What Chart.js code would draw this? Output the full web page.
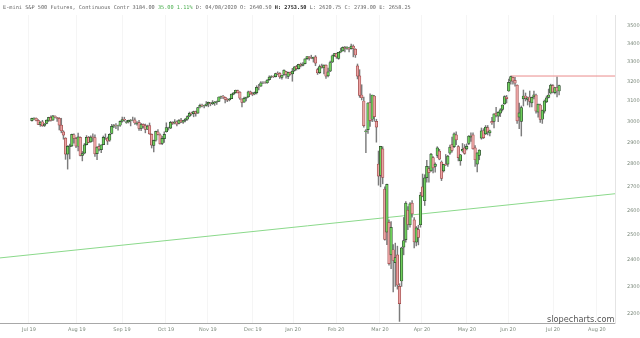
<!DOCTYPE html>
<html lang="en">
<head>
<meta charset="UTF-8">
<title>E-mini S&amp;P 500 Futures</title>
<script src="https://cdn.jsdelivr.net/npm/chart.js@4.4.0/dist/chart.umd.min.js"></script>
<style>
  body { margin: 0; background: #fff; }
  #wrap { position: relative; width: 640px; height: 338px; }
  #title { position: absolute; left: 3px; top: 4px; font: 5.25px 'DejaVu Sans Mono', monospace; color: #666; white-space: nowrap; }
  #title .up { color: #4caf50; }
  #title b { color: #222; }
  #mark { position: absolute; left: 547px; top: 314px; font: 8.2px 'DejaVu Sans', sans-serif; color: #555; }
</style>
</head>
<body>
<div id="wrap">
  <canvas id="myChart" width="640" height="338"></canvas>
  <div id="title">E-mini S&amp;P 500 Futures, Continuous Contr 3184.00 <span class="up">35.00 1.11%</span> D: 04/08/2020 O: 2640.50 <b>H: 2753.50</b> L: 2620.75 C: 2739.00 E: 2658.25</div>
  <div id="mark">slopecharts.com</div>
</div>
<script>
// trading days, Jul 12 2019 .. Jul 10 2020
const dates = [
  '07/12/19','07/15/19','07/16/19','07/17/19','07/18/19','07/19/19','07/22/19','07/23/19','07/24/19','07/25/19','07/26/19','07/29/19','07/30/19','07/31/19',
  '08/01/19','08/02/19','08/05/19','08/06/19','08/07/19','08/08/19','08/09/19','08/12/19','08/13/19','08/14/19','08/15/19','08/16/19','08/19/19','08/20/19','08/21/19','08/22/19','08/23/19','08/26/19','08/27/19','08/28/19','08/29/19','08/30/19',
  '09/03/19','09/04/19','09/05/19','09/06/19','09/09/19','09/10/19','09/11/19','09/12/19','09/13/19','09/16/19','09/17/19','09/18/19','09/19/19','09/20/19','09/23/19','09/24/19','09/25/19','09/26/19','09/27/19','09/30/19',
  '10/01/19','10/02/19','10/03/19','10/04/19','10/07/19','10/08/19','10/09/19','10/10/19','10/11/19','10/14/19','10/15/19','10/16/19','10/17/19','10/18/19','10/21/19','10/22/19','10/23/19','10/24/19','10/25/19','10/28/19','10/29/19','10/30/19','10/31/19',
  '11/01/19','11/04/19','11/05/19','11/06/19','11/07/19','11/08/19','11/11/19','11/12/19','11/13/19','11/14/19','11/15/19','11/18/19','11/19/19','11/20/19','11/21/19','11/22/19','11/25/19','11/26/19','11/27/19','11/29/19',
  '12/02/19','12/03/19','12/04/19','12/05/19','12/06/19','12/09/19','12/10/19','12/11/19','12/12/19','12/13/19','12/16/19','12/17/19','12/18/19','12/19/19','12/20/19','12/23/19','12/24/19','12/26/19','12/27/19','12/30/19','12/31/19',
  '01/02/20','01/03/20','01/06/20','01/07/20','01/08/20','01/09/20','01/10/20','01/13/20','01/14/20','01/15/20','01/16/20','01/17/20','01/21/20','01/22/20','01/23/20','01/24/20','01/27/20','01/28/20','01/29/20','01/30/20','01/31/20',
  '02/03/20','02/04/20','02/05/20','02/06/20','02/07/20','02/10/20','02/11/20','02/12/20','02/13/20','02/14/20','02/18/20','02/19/20','02/20/20','02/21/20','02/24/20','02/25/20','02/26/20','02/27/20','02/28/20',
  '03/02/20','03/03/20','03/04/20','03/05/20','03/06/20','03/09/20','03/10/20','03/11/20','03/12/20','03/13/20','03/16/20','03/17/20','03/18/20','03/19/20','03/20/20','03/23/20','03/24/20','03/25/20','03/26/20','03/27/20','03/30/20','03/31/20',
  '04/01/20','04/02/20','04/03/20','04/06/20','04/07/20','04/08/20','04/09/20','04/13/20','04/14/20','04/15/20','04/16/20','04/17/20','04/20/20','04/21/20','04/22/20','04/23/20','04/24/20','04/27/20','04/28/20','04/29/20','04/30/20',
  '05/01/20','05/04/20','05/05/20','05/06/20','05/07/20','05/08/20','05/11/20','05/12/20','05/13/20','05/14/20','05/15/20','05/18/20','05/19/20','05/20/20','05/21/20','05/22/20','05/26/20','05/27/20','05/28/20','05/29/20',
  '06/01/20','06/02/20','06/03/20','06/04/20','06/05/20','06/08/20','06/09/20','06/10/20','06/11/20','06/12/20','06/15/20','06/16/20','06/17/20','06/18/20','06/19/20','06/22/20','06/23/20','06/24/20','06/25/20','06/26/20','06/29/20','06/30/20',
  '07/01/20','07/02/20','07/06/20','07/07/20','07/08/20','07/09/20','07/10/20'
];

const opens = [
  3003,3014,3015,3005,2985,2998,2980,2990,3004,3019,3006,3025,3018,3014,
  2982,2950,2920,2846,2880,2884,2936,2918,2882,2924,2840,2850,2890,2924,2902,2926,2922,2848,2882,2866,2890,2926,
  2920,2910,2942,2977,2980,2978,2981,3001,3010,2995,2998,3005,3006,3007,2988,2995,2966,2985,2980,2962,
  2980,2938,2886,2910,2950,2935,2895,2918,2950,2966,2967,2994,2992,2998,2990,3006,2996,3005,3010,3025,3040,3037,3048,
  3040,3070,3078,3075,3078,3085,3090,3087,3090,3094,3098,3120,3123,3118,3108,3105,3112,3134,3142,3152,
  3144,3110,3094,3114,3120,3146,3136,3135,3142,3170,3175,3192,3192,3192,3208,3222,3224,3224,3242,3241,3220,
  3235,3250,3225,3246,3238,3256,3276,3266,3288,3283,3292,3318,3328,3322,3320,3328,3260,3245,3278,3270,3284,
  3228,3252,3300,3335,3345,3320,3354,3360,3378,3375,3375,3372,3386,3370,3280,3228,3130,3100,2950,
  2960,3092,3010,3125,3000,2800,2750,2870,2690,2510,2550,2420,2440,2390,2420,2300,2320,2450,2480,2600,2540,2630,
  2560,2470,2520,2540,2700,2640,2740,2780,2770,2830,2790,2840,2860,2810,2770,2800,2800,2850,2890,2880,2935,
  2880,2815,2860,2875,2870,2895,2925,2935,2875,2800,2840,2920,2955,2940,2970,2945,3000,3000,3040,3025,
  3040,3058,3085,3120,3150,3200,3220,3205,3180,3020,3000,3110,3125,3108,3120,3090,3120,3130,3045,3080,3010,3050,
  3095,3118,3140,3178,3142,3168,3150
];
const highs = [
  3016,3018,3017,3008,2999,3005,2990,3007,3020,3027,3029,3027,3020,3018,
  3015,2955,2922,2885,2892,2939,2940,2924,2944,2926,2858,2895,2932,2928,2931,2940,2936,2880,2893,2890,2930,2940,
  2925,2941,2985,2985,2989,2982,3002,3021,3020,3004,3006,3009,3021,3017,2999,3005,2990,2988,2987,2982,
  2992,2940,2911,2953,2960,2940,2928,2950,2993,2972,3000,2998,3008,3002,3008,3014,3005,3015,3027,3045,3045,3050,3050,
  3068,3085,3085,3080,3097,3095,3092,3102,3098,3099,3121,3125,3128,3120,3112,3113,3135,3142,3155,3155,
  3147,3112,3120,3120,3150,3150,3143,3145,3177,3184,3198,3198,3198,3208,3228,3229,3228,3242,3249,3245,3232,
  3259,3252,3247,3248,3267,3277,3283,3289,3295,3298,3317,3330,3330,3337,3327,3335,3268,3285,3290,3286,3286,
  3268,3306,3338,3347,3348,3353,3375,3382,3385,3383,3380,3397,3393,3372,3290,3260,3182,3120,2960,
  3092,3136,3130,3128,3010,2860,2882,2880,2700,2712,2560,2553,2460,2466,2454,2310,2450,2570,2637,2615,2632,2641,
  2570,2533,2538,2676,2756,2753,2818,2790,2850,2835,2806,2880,2868,2815,2800,2844,2840,2887,2925,2945,2950,
  2885,2845,2895,2890,2893,2932,2945,2945,2885,2852,2866,2968,2965,2980,2980,2958,3020,3037,3068,3047,
  3062,3081,3126,3128,3211,3227,3222,3220,3182,3090,3075,3155,3140,3120,3150,3120,3150,3135,3085,3085,3055,3105,
  3125,3160,3185,3183,3168,3222,3180
];
const lows = [
  3001,3008,3002,2984,2976,2976,2975,2988,2999,3001,3004,3016,3000,2959,
  2945,2915,2822,2778,2824,2880,2896,2875,2860,2838,2815,2847,2888,2898,2900,2905,2835,2820,2860,2853,2889,2914,
  2890,2905,2940,2970,2965,2958,2975,2996,3000,2990,2992,2978,3002,2985,2982,2957,2955,2967,2945,2960,
  2938,2874,2856,2906,2935,2892,2890,2900,2948,2958,2965,2985,2988,2978,2988,2994,2990,2997,3005,3022,3030,3022,3025,
  3038,3066,3070,3065,3074,3071,3076,3082,3078,3083,3096,3112,3112,3090,3096,3100,3111,3131,3139,3140,
  3108,3070,3093,3100,3118,3133,3126,3131,3135,3155,3173,3188,3189,3189,3205,3218,3219,3222,3233,3215,3211,
  3230,3216,3213,3232,3200,3252,3258,3263,3275,3280,3290,3315,3310,3318,3300,3281,3235,3240,3268,3238,3214,
  3222,3250,3298,3330,3320,3315,3350,3358,3355,3368,3355,3370,3328,3325,3212,3118,3105,2972,2853,
  2942,2976,2998,3000,2901,2707,2700,2713,2478,2460,2380,2367,2280,2300,2290,2174,2300,2420,2470,2520,2530,2571,
  2447,2455,2459,2530,2657,2620,2720,2720,2768,2761,2764,2830,2820,2727,2765,2794,2790,2845,2855,2875,2890,
  2815,2795,2855,2845,2865,2890,2905,2868,2790,2765,2820,2915,2918,2937,2935,2930,2985,2968,3022,2998,
  3023,3050,3083,3090,3148,3185,3185,3175,2990,2965,2930,3075,3100,3080,3070,3070,3110,3040,3020,2995,2990,3040,
  3092,3115,3135,3140,3135,3120,3130
];
const closes = [
  3014,3015,3004,2985,2996,2978,2986,3006,3019,3004,3027,3021,3014,2982,
  2954,2934,2846,2882,2884,2938,2919,2883,2926,2840,2848,2889,2924,2900,2925,2923,2847,2878,2869,2888,2924,2926,
  2906,2938,2976,2979,2979,2980,3000,3009,3007,2998,3005,3006,3006,2992,2991,2966,2984,2977,2961,2977,
  2940,2887,2910,2952,2938,2893,2919,2938,2970,2966,2995,2990,2998,2986,3006,2996,3004,3010,3023,3039,3037,3047,3038,
  3067,3078,3075,3077,3085,3093,3087,3092,3094,3097,3120,3122,3120,3108,3104,3110,3134,3141,3154,3141,
  3114,3093,3113,3118,3146,3136,3133,3142,3169,3169,3192,3192,3191,3206,3221,3224,3223,3240,3240,3222,3231,
  3258,3235,3246,3237,3253,3275,3265,3288,3283,3289,3317,3330,3321,3321,3326,3295,3243,3276,3273,3284,3226,
  3249,3298,3334,3345,3328,3352,3358,3379,3374,3380,3370,3386,3373,3338,3226,3128,3116,2979,2954,
  3090,3003,3130,3023,2972,2747,2882,2741,2481,2711,2386,2529,2398,2409,2305,2237,2447,2476,2630,2541,2627,2585,
  2471,2527,2489,2664,2660,2739,2790,2762,2846,2784,2800,2875,2823,2737,2799,2798,2837,2878,2863,2940,2912,
  2830,2843,2868,2849,2882,2930,2930,2870,2820,2852,2864,2954,2922,2972,2949,2955,2992,3036,3030,3044,
  3056,3080,3122,3112,3194,3224,3200,3190,3002,3041,3067,3125,3114,3115,3098,3118,3131,3050,3084,3009,3053,3100,
  3116,3130,3180,3145,3167,3150,3178
];

// drawn lines (trading-day index / price)
const trendX = [-15.2, 277.6];
const trendY = [2408, 2670];
const resX = [228, 277.6];
const resY = [3227, 3227];

// axis ticks
const monthTickPos = [-1.4, 21.4, 42.9, 63.8, 83.8, 105.2, 124.3, 144.8, 165.7, 185.7, 207.1, 226.7, 248.1, 269.0];
const monthLabels = ['Jul 19','Aug 19','Sep 19','Oct 19','Nov 19','Dec 19','Jan 20','Feb 20','Mar 20','Apr 20','May 20','Jun 20','Jul 20','Aug 20'];
const priceTicks = [2200,2300,2400,2500,2600,2700,2800,2900,3000,3100,3200,3300,3400,3500];

const wicks = dates.map((d, i) => ({x: i, y: [lows[i], highs[i]]}));
const bodies = dates.map((d, i) => ({x: i, y: [opens[i], closes[i]]}));
const isUp = closes.map((c, i) => c >= opens[i]);

const ctx = document.getElementById('myChart');
new Chart(ctx, {
  type: 'bar',
  data: {
    datasets: [
      {
        type: 'line', label: 'trend',
        data: trendX.map((x, i) => ({x: x, y: trendY[i]})),
        borderColor: '#8bd98b', borderWidth: 1, pointRadius: 0, order: 4
      },
      {
        type: 'line', label: 'resistance',
        data: resX.map((x, i) => ({x: x, y: resY[i]})),
        borderColor: '#ea8c8c', borderWidth: 1, pointRadius: 0, order: 3
      },
      {
        label: 'wick', data: wicks,
        backgroundColor: '#7c7c7c', barThickness: 0.8, grouped: false, order: 2
      },
      {
        label: 'body', data: bodies,
        backgroundColor: isUp.map(u => u ? '#6fcf5c' : '#eba3a3'),
        borderColor: isUp.map(u => u ? '#28452a' : '#9a4646'),
        borderWidth: 0.7, borderSkipped: false,
        barThickness: 2.6, grouped: false, order: 1
      }
    ]
  },
  options: {
    responsive: false,
    animation: false,
    layout: { padding: 0 },
    plugins: { legend: { display: false }, tooltip: { enabled: false }, title: { display: false } },
    scales: {
      x: {
        type: 'linear', min: trendX[0], max: trendX[1], offset: false,
        grid: { color: '#f5f5f5', drawTicks: false, offset: false },
        border: { color: '#a8a8a8' },
        afterBuildTicks: s => { s.ticks = monthTickPos.map(v => ({value: v})); },
        afterFit: s => { s.height = 14; },
        ticks: {
          autoSkip: false, maxRotation: 0, padding: 4,
          font: { size: 5, family: 'DejaVu Sans' }, color: '#7d8a7d',
          callback: v => monthLabels[monthTickPos.indexOf(v)]
        }
      },
      y: {
        type: 'logarithmic', position: 'right', min: 2168.5, max: 3560,
        grid: { display: false, drawTicks: false },
        border: { color: '#e4e4e4' },
        afterBuildTicks: s => { s.ticks = priceTicks.map(v => ({value: v})); },
        afterFit: s => { s.width = 25; },
        ticks: {
          padding: 12,
          font: { size: 5, family: 'DejaVu Sans' }, color: '#7d8a7d',
          callback: v => String(v)
        }
      }
    }
  }
});
</script>
</body>
</html>
